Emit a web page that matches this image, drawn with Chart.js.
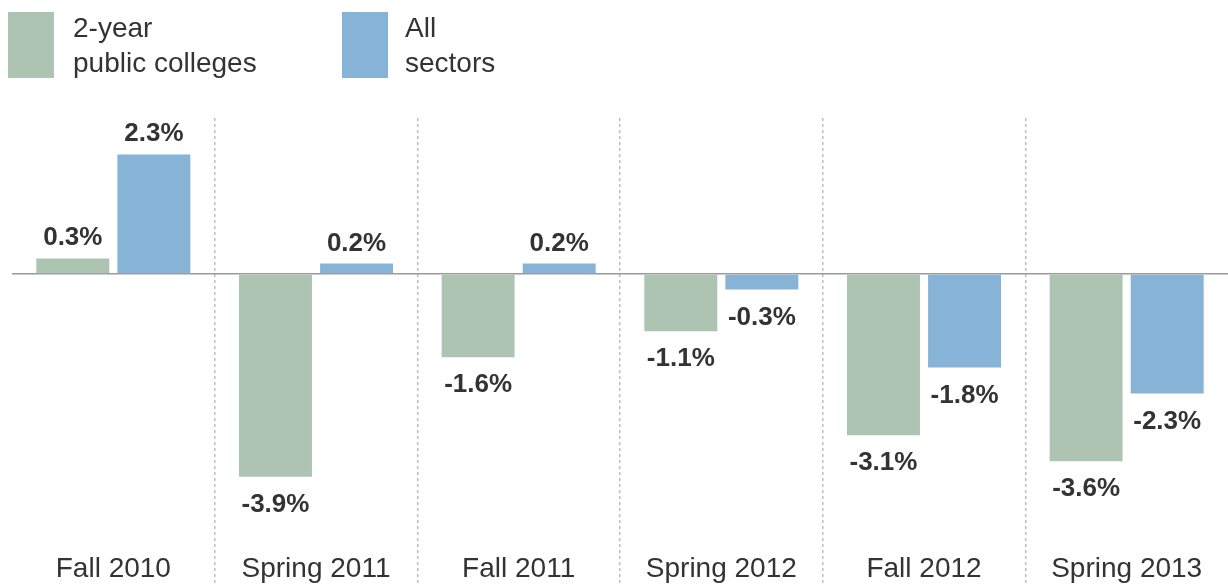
<!DOCTYPE html>
<html lang="en">
<head>
    <meta charset="UTF-8">
    <title>Enrollment change: 2-year public colleges vs all sectors</title>
    <style>
        body { margin: 0; background: #fff; font-family: "Liberation Sans", Arial, sans-serif; }
        #wrap { position: relative; width: 1228px; height: 586px; }
        #legend { position: absolute; left: 0; top: 0; }
        .box { position: absolute; top: 12px; width: 46px; height: 66px; }
        .txt { position: absolute; top: 10px; white-space: nowrap; font-size: 28px; line-height: 35px; color: #333; }
    </style>
</head>
<body>
<div id="wrap">
    <canvas id="chart" width="1228" height="586"></canvas>
    <div id="legend"></div>
</div>
<script src="https://cdn.jsdelivr.net/npm/chart.js@4.4.1/dist/chart.umd.min.js"></script>
<script>
    const categories = ['Fall 2010', 'Spring 2011', 'Fall 2011', 'Spring 2012', 'Fall 2012', 'Spring 2013'];
    const twoYearPublic = [0.3, -3.9, -1.6, -1.1, -3.1, -3.6];
    const allSectors = [2.3, 0.2, 0.2, -0.3, -1.8, -2.3];
    const seriesLabels = [['2-year', 'public colleges'], ['All', 'sectors']];
    const seriesColors = ['#adc4b2', '#87b4d6'];

    // value labels above / below each bar
    const valueLabels = {
        id: 'valueLabels',
        afterDatasetsDraw(chart) {
            const ctx = chart.ctx;
            ctx.save();
            ctx.font = 'bold 26px "Liberation Sans", Arial, sans-serif';
            ctx.fillStyle = '#333';
            ctx.textAlign = 'center';
            ctx.textBaseline = 'alphabetic';
            chart.data.datasets.forEach((ds, i) => {
                chart.getDatasetMeta(i).data.forEach((bar, j) => {
                    const v = ds.data[j];
                    const y = v >= 0 ? bar.y - 13 : bar.y + 35;
                    ctx.fillText(v.toFixed(1) + '%', bar.x, y);
                });
            });
            ctx.restore();
        }
    };

    const chart = new Chart(document.getElementById('chart').getContext('2d'), {
        type: 'bar',
        data: {
            labels: categories,
            datasets: [
                { label: seriesLabels[0].join(' '), data: twoYearPublic, backgroundColor: seriesColors[0] },
                { label: seriesLabels[1].join(' '), data: allSectors, backgroundColor: seriesColors[1] }
            ]
        },
        options: {
            responsive: false,
            animation: false,
            layout: { padding: { top: 118, left: 12, right: 0, bottom: 0 } },
            plugins: {
                legend: { display: false },
                tooltip: { enabled: false }
            },
            scales: {
                x: {
                    border: { display: false, dash: [3, 3] },
                    grid: {
                        offset: true,
                        drawTicks: false,
                        color: (c) => (c.index === 0 || !c.tick) ? 'transparent' : '#bdbdbd',
                        lineWidth: 1.5
                    },
                    ticks: {
                        mirror: true,
                        padding: 0,
                        color: '#333',
                        font: { family: '"Liberation Sans", Arial, sans-serif', size: 28 }
                    }
                },
                y: {
                    min: -6,
                    max: 3,
                    border: { display: false },
                    grid: {
                        drawTicks: false,
                        color: (c) => c.tick && c.tick.value === 0 ? '#9a9a9a' : 'transparent',
                        lineWidth: 1.5
                    },
                    ticks: { display: false, stepSize: 1 }
                }
            }
        },
        plugins: [valueLabels]
    });

    // legend built from the datasets
    const legend = document.getElementById('legend');
    const offsets = [[8, 73], [342, 405]];
    chart.data.datasets.forEach((ds, i) => {
        const box = document.createElement('div');
        box.className = 'box';
        box.style.left = offsets[i][0] + 'px';
        box.style.background = ds.backgroundColor;
        const txt = document.createElement('div');
        txt.className = 'txt';
        txt.style.left = offsets[i][1] + 'px';
        txt.innerHTML = seriesLabels[i].join('<br>');
        legend.appendChild(box);
        legend.appendChild(txt);
    });
</script>
</body>
</html>
